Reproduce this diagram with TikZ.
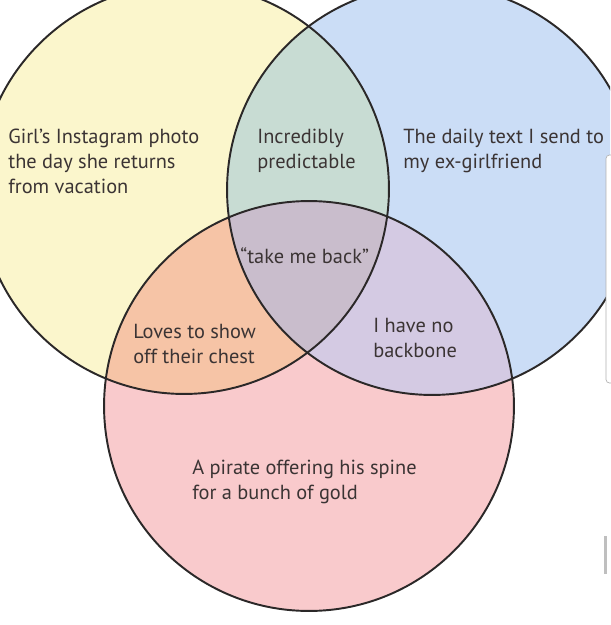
\documentclass[tikz,border=0pt]{standalone}
\usepackage{fontspec}
\setmainfont{PT Sans}
\usetikzlibrary{positioning}
\definecolor{cyel}{HTML}{FBF6CC}
\definecolor{cblu}{HTML}{CBDDF6}
\definecolor{cpnk}{HTML}{F9CACC}
\definecolor{cyb}{HTML}{C8DCD3}
\definecolor{cyp}{HTML}{F6C4A6}
\definecolor{cbp}{HTML}{D4CAE3}
\definecolor{cybp}{HTML}{C9BDCC}
\definecolor{cline}{HTML}{2B2828}
\definecolor{ctxt}{HTML}{3B3434}

\begin{document}
\begin{tikzpicture}[x=0.02cm,y=-0.02cm,
  ring/.style={draw=cline,line width=1.1pt},
  lbl/.style={anchor=base west,align=left,inner sep=0pt,text=ctxt,
    font=\fontsize{11.6}{14.2}\selectfont}]
  \useasboundingbox (0,0) rectangle (610,625);
  \fill[white] (0,0) rectangle (610,625);
  \coordinate (cy) at (184,189);
  \coordinate (cb) at (432,190);
  \coordinate (cp) at (309,406);
  \begin{scope}
    \clip (0,0) rectangle (610,625);
    \fill[cyel] (cy) circle (4.1cm);
    \fill[cblu] (cb) circle (4.1cm);
    \fill[cpnk] (cp) circle (4.1cm);
    % overlaps
    \begin{scope}\clip (cy) circle (4.1cm); \fill[cyb] (cb) circle (4.1cm);\end{scope}
    \begin{scope}\clip (cy) circle (4.1cm); \fill[cyp] (cp) circle (4.1cm);\end{scope}
    \begin{scope}\clip (cb) circle (4.1cm); \fill[cbp] (cp) circle (4.1cm);\end{scope}
    \begin{scope}\clip (cy) circle (4.1cm); \clip (cb) circle (4.1cm);
      \fill[cybp] (cp) circle (4.1cm);\end{scope}
    \draw[ring] (cy) circle (4.1cm);
    \draw[ring] (cb) circle (4.1cm);
    \draw[ring] (cp) circle (4.1cm);
  \end{scope}
  % labels (placed at baseline of last line)
  \node[lbl] (girl) at (8,193) {Girl’s Instagram photo\\the day she returns\\from vacation};
  \node[lbl] (pred) at (257,168) {Incredibly\\predictable};
  \node[lbl] (text) at (403,168) {The daily text I send to\\my ex-girlfriend};
  \node[lbl] (back) at (240,263) {“take me back”};
  \node[lbl] (chest) at (133,363) {Loves to show\\off their chest};
  \node[lbl] (bone) at (373,357) {I have no\\backbone};
  \node[lbl] (gold) at (192,499) {A pirate offering his spine\\for a bunch of gold};
  % screen edge
  \draw[gray!60,fill=white,rounded corners=2pt] (606,155) rectangle (616,383);
  \fill[gray!50] (604,536) rectangle (607,574);
\end{tikzpicture}
\end{document}
